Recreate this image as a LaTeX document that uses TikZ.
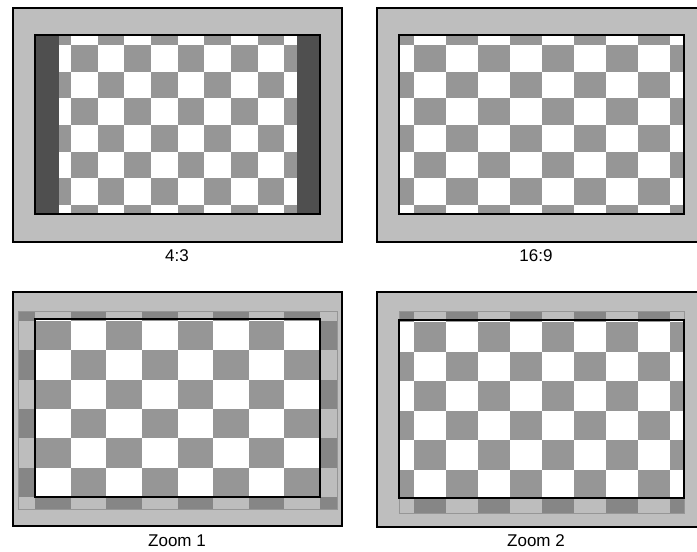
\documentclass[tikz,border=0pt]{standalone}
\usepackage{fontspec}
\setmainfont{Liberation Sans}
\usepackage{tikz}
\definecolor{bggray}{HTML}{BEBEBE}
\definecolor{chkgray}{HTML}{969696}
\definecolor{bargray}{HTML}{4F4F4F}
\definecolor{dimlight}{HTML}{BDBDBD}
\definecolor{dimdark}{HTML}{868686}
\tikzset{
    panel/.style = {
        fill=bggray, draw=black,
        line width=1.2pt
    },
    screen/.style = {
        draw=black,
        line width=1.8pt
    },
    bar/.style = {
        fill=bargray
    },
    dimedge/.style = {
        draw=chkgray,
        line width=0.6pt
    },
    caption/.style = {
        font=\fontsize{17}{20}\selectfont,
        inner sep=0pt
    }
}
% #1,#2 = corner of square (0,0); #3,#4 = square size; #5 light, #6 dark
\newcommand{\checkers}[6]{%
    \fill[#5] (#1-2*#3,#2-2*#4) rectangle (#1+10*#3,#2+8*#4);
    \foreach \i in {-1,...,8}{
        \foreach \j in {-1,...,6}{
            \pgfmathtruncatemacro{\odd}{mod(\i+\j+20,2)}
            \ifnum\odd=0
                \fill[#6] (#1+\i*#3,#2+\j*#4) rectangle ++(#3,#4);
            \fi
        }
    }
}

\begin{document}
\begin{tikzpicture}[x=1pt, y=-1pt]
\useasboundingbox (0,0) rectangle (697,552);

% 4:3
\draw[panel] (13,8) rectangle (342,242);
\begin{scope}
    \clip (59,35) rectangle (297,214);
    \checkers{71}{45}{26.67}{26.67}{white}{chkgray}
\end{scope}
\fill[bar] (35,35) rectangle (59,214);
\fill[bar] (297,35) rectangle (320,214);
\draw[screen] (35,35) rectangle (320,214);
\node[caption] (lblfour) at (177,256) {4:3};

% 16:9
\draw[panel] (377,8) rectangle (706,242);
\begin{scope}
    \clip (399,35) rectangle (684,214);
    \checkers{414}{45}{32}{26.67}{white}{chkgray}
\end{scope}
\draw[screen] (399,35) rectangle (684,214);
\node[caption] (lblsixteen) at (536,256) {16:9};

% Zoom 1
\draw[panel] (13,292) rectangle (342,526);
\begin{scope}
    \clip (18,311) rectangle (337,509);
    \checkers{35}{321}{35.625}{29.3}{dimlight}{dimdark}
\end{scope}
\draw[dimedge] (18,311) rectangle (337,509);
\begin{scope}
    \clip (35,319) rectangle (320,497);
    \checkers{35}{321}{35.625}{29.3}{white}{chkgray}
\end{scope}
\draw[screen] (35,319) rectangle (320,497);
\node[caption] (lblzoomone) at (177,541) {Zoom 1};

% Zoom 2
\draw[panel] (377,292) rectangle (706,527);
\begin{scope}
    \clip (399,311) rectangle (684,513);
    \checkers{414}{322}{32}{29.5}{dimlight}{dimdark}
\end{scope}
\draw[dimedge] (399,311) rectangle (684,513);
\begin{scope}
    \clip (399,320) rectangle (684,498);
    \checkers{414}{322}{32}{29.5}{white}{chkgray}
\end{scope}
\draw[screen] (399,320) rectangle (684,498);
\node[caption] (lblzoomtwo) at (536,541) {Zoom 2};

\end{tikzpicture}
\end{document}
